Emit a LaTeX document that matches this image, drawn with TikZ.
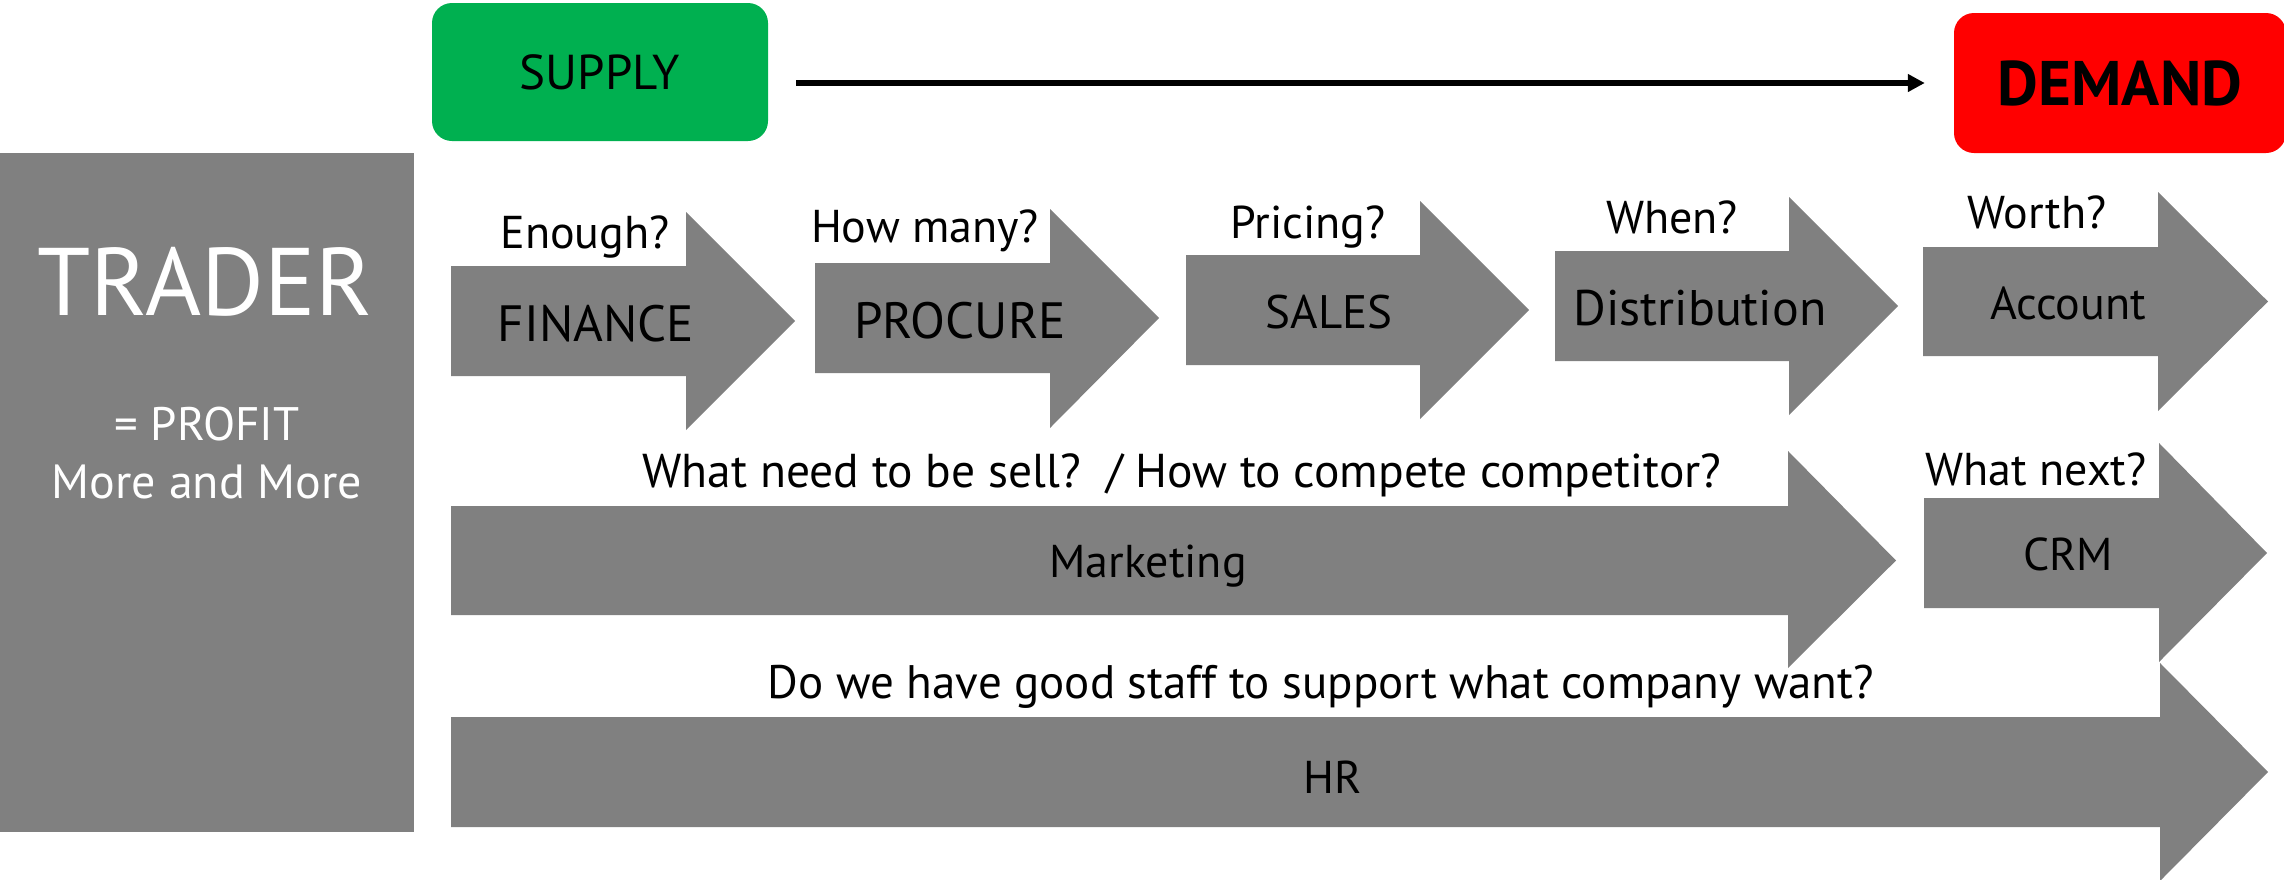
\documentclass[tikz,border=0pt]{standalone}
\usepackage{fontspec}
\setmainfont{PT Sans}
\usetikzlibrary{arrows.meta}
\definecolor{arrgray}{HTML}{808080}
\definecolor{supgreen}{HTML}{00B050}
\definecolor{demred}{HTML}{FF0000}
\newcommand{\fsz}[1]{\fontsize{#1}{#1}\selectfont}
% L, T, B, H (head base x), HT, HB, X (tip x)
\newcommand{\flowarrow}[7]{%
  \fill[arrgray] (#1,#2) -- (#4,#2) -- (#4,#5) -- (#7,{(#2+#3)/2}) -- (#4,#6) -- (#4,#3) -- (#1,#3) -- cycle;}
\tikzset{
  qlbl/.style={anchor=base, inner sep=0pt, font=\fsz{46}},
  inlbl/.style={anchor=base, inner sep=0pt, font=\fsz{48}},
  whlbl/.style={anchor=base, inner sep=0pt, text=white, font=\fsz{47}},
}
\begin{document}
\begin{tikzpicture}[x=1pt,y=-1pt]
\useasboundingbox (0,0) rectangle (2284,879);
% TRADER panel
\node[fill=arrgray, draw=none, inner sep=0pt, minimum width=414pt, minimum height=679pt, anchor=north west] (trader) at (0,153) {};
\node[anchor=base, inner sep=0pt, text=white, font=\fsz{96}] (tradertxt) at (205,315) {TRADER};
\node[whlbl] (profit) at (207,440) {= PROFIT};
\node[whlbl, font=\fsz{48}] (more) at (207,498) {More and More};
% supply / demand
\node[fill=supgreen, rounded corners=20pt, minimum width=336pt, minimum height=138pt, inner sep=0pt, font=\fsz{49}] (supply) at (600,72) {SUPPLY};
\node[fill=demred, rounded corners=20pt, minimum width=332pt, minimum height=140pt, inner sep=0pt, font=\bfseries\fsz{63}] (demand) at (2120,83) {DEMAND};
\draw[line width=5.5pt, -{Triangle[length=17pt,width=17pt]}, shorten <=28pt, shorten >=29pt] (supply.east |- demand.west) -- (demand.west);
% process arrows
\flowarrow{451}{266}{376}{686}{212}{430}{795}
\flowarrow{815}{263}{373}{1050}{209}{428}{1159}
\flowarrow{1186}{255}{365}{1420}{201}{419}{1529}
\flowarrow{1555}{251}{361}{1789}{197}{415}{1898}
\flowarrow{1923}{247}{356}{2158}{192}{411}{2268}
\flowarrow{451}{506}{615}{1788}{451}{668}{1896}
\flowarrow{1924}{498}{608}{2159}{443}{662}{2267}
\flowarrow{451}{717}{827}{2160}{663}{881}{2268}
% question labels
\node[qlbl] (q1) at (585,248) {Enough?};
\node[qlbl] (q2) at (925,242) {How many?};
\node[qlbl] (q3) at (1308,238) {Pricing?};
\node[qlbl] (q4) at (1672,233) {When?};
\node[qlbl] (q5) at (2037,228) {Worth?};
\node[qlbl, font=\fsz{47.5}] (q6) at (1182,487) {What need to be sell?~~/ How to compete competitor?};
\node[qlbl] (q7) at (2036,485) {What next?};
\node[qlbl, font=\fsz{47}] (q8) at (1321,698) {Do we have good staff to support what company want?};
% inner labels
\node[inlbl, font=\fsz{51}] (finance) at (596,341) {FINANCE};
\node[inlbl, font=\fsz{51}] (procure) at (960,338) {PROCURE};
\node[inlbl, font=\fsz{47}] (sales) at (1329,328) {SALES};
\node[inlbl, font=\fsz{50}] (distr) at (1700,325) {Distribution};
\node[inlbl, font=\fsz{46}] (account) at (2068,319) {Account};
\node[inlbl, font=\fsz{46}] (marketing) at (1148,577) {Marketing};
\node[inlbl, font=\fsz{46}] (crm) at (2068,570) {CRM};
\node[inlbl, font=\fsz{46}] (hr) at (1333,793) {HR};
\end{tikzpicture}
\end{document}
